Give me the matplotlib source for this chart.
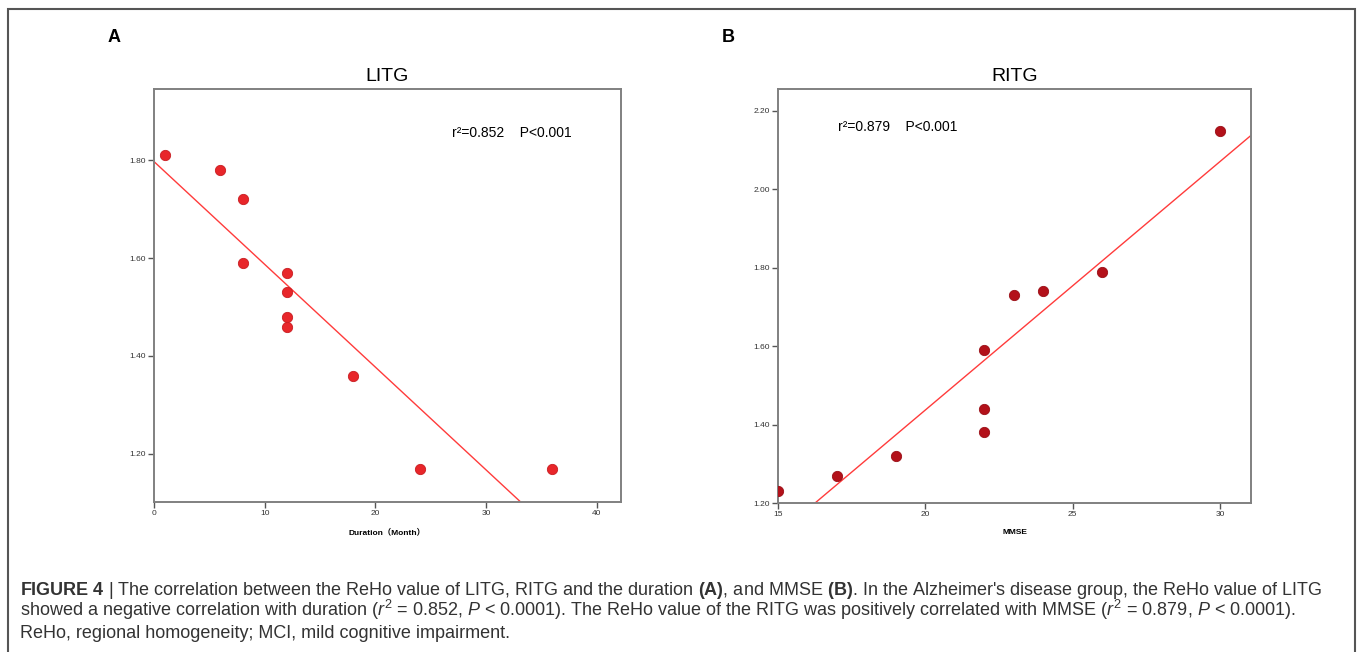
import numpy as np
import matplotlib
matplotlib.use('Agg')
import matplotlib.pyplot as plt
from matplotlib.patches import Rectangle

plt.rcParams['font.family'] = ['Liberation Sans', 'Noto Sans CJK SC', 'DejaVu Sans']
plt.rcParams['mathtext.fontset'] = 'custom'
plt.rcParams['mathtext.rm'] = 'Liberation Sans'
plt.rcParams['mathtext.it'] = 'Liberation Sans:italic'
plt.rcParams['mathtext.bf'] = 'Liberation Sans:bold'

# Panel A: LITG ReHo vs duration
duration = [1, 6, 8, 8, 12, 12, 12, 12, 18, 24, 36]
reho_litg = [1.81, 1.78, 1.72, 1.59, 1.57, 1.53, 1.48, 1.46, 1.36, 1.17, 1.17]

# Panel B: RITG ReHo vs MMSE
mmse = [15, 17, 19, 22, 22, 22, 23, 24, 26, 30]
reho_ritg = [1.23, 1.27, 1.32, 1.59, 1.44, 1.38, 1.73, 1.74, 1.79, 2.15]

xticks_a = [0, 10, 20, 30, 40]
yticks_a = [1.20, 1.40, 1.60, 1.80]
xticks_b = [15, 20, 25, 30]
yticks_b = [1.20, 1.40, 1.60, 1.80, 2.00, 2.20]

caption = [
    r"$\mathbf{FIGURE\ 4}$ | The correlation between the ReHo value of LITG, RITG and the duration "
    r"$\mathbf{(A)}$, and MMSE $\mathbf{(B)}$. In the Alzheimer's disease group, the ReHo value of LITG",
    r"showed a negative correlation with duration ($\mathit{r}^2$ = 0.852, $\mathit{P}$ < 0.0001). "
    r"The ReHo value of the RITG was positively correlated with MMSE ($\mathit{r}^2$ = 0.879, $\mathit{P}$ < 0.0001).",
    "ReHo, regional homogeneity; MCI, mild cognitive impairment.",
]

fig = plt.figure(figsize=(13.57, 6.52), dpi=100)

# outer frame
fig.patches.append(Rectangle((8 / 1357, -0.05), 1347 / 1357, 1.05 - 9 / 652,
                             transform=fig.transFigure, fill=False,
                             edgecolor='#555555', linewidth=1.5))


def style_axes(ax):
    for s in ax.spines.values():
        s.set_color('#808080')
        s.set_linewidth(1.4)
    ax.tick_params(direction='out', length=4, width=1, color='#555555',
                   labelsize=6, labelcolor='#333333', pad=2)


axA = fig.add_axes([0.1135, 0.2301, 0.3441, 0.6334])
axA.scatter(duration, reho_litg, s=55, color='#e8262a', edgecolor='#c81e22',
            linewidth=0.6, zorder=3)
k, b = np.polyfit(duration, reho_litg, 1)
xx = np.array([0, 42.2])
axA.plot(xx, k * xx + b, color='#ff3b3b', linewidth=1.0, zorder=2)
axA.set_xlim(0, 42.2)
axA.set_ylim(1.102, 1.945)
axA.set_xticks(xticks_a)
axA.set_yticks(yticks_a)
axA.set_yticklabels(['%.2f' % v for v in yticks_a])
axA.set_title('LITG', fontsize=14, pad=6)
axA.set_xlabel('Duration（Month）', fontsize=6, fontweight='bold', labelpad=8)
axA.text(0.638, 0.893, 'r²=0.852    P<0.001', transform=axA.transAxes,
         fontsize=10, va='center', ha='left')
style_axes(axA)

axB = fig.add_axes([0.5733, 0.2285, 0.3486, 0.6350])
axB.scatter(mmse, reho_ritg, s=55, color='#b3111a', edgecolor='#9a0e16',
            linewidth=0.6, zorder=3)
k2, b2 = np.polyfit(mmse, reho_ritg, 1)
xx2 = np.array([15, 31.05])
axB.plot(xx2, k2 * xx2 + b2, color='#ff3b3b', linewidth=1.0, zorder=2)
axB.set_xlim(15, 31.05)
axB.set_ylim(1.20, 2.256)
axB.set_xticks(xticks_b)
axB.set_yticks(yticks_b)
axB.set_yticklabels(['%.2f' % v for v in yticks_b])
axB.set_title('RITG', fontsize=14, pad=6)
axB.set_xlabel('MMSE', fontsize=6, fontweight='bold', labelpad=8)
axB.text(0.127, 0.908, 'r²=0.879    P<0.001', transform=axB.transAxes,
         fontsize=10, va='center', ha='left')
style_axes(axB)

fig.text(108 / 1357, 1 - 37 / 652, 'A', fontsize=13, fontweight='bold', va='center')
fig.text(722 / 1357, 1 - 37 / 652, 'B', fontsize=13, fontweight='bold', va='center')

for i, line in enumerate(caption):
    fig.text(20 / 1357, 1 - (595 + 21.5 * i) / 652, line, fontsize=13,
             color='#333333', va='baseline', ha='left')

fig.savefig('out.png', dpi=100)
